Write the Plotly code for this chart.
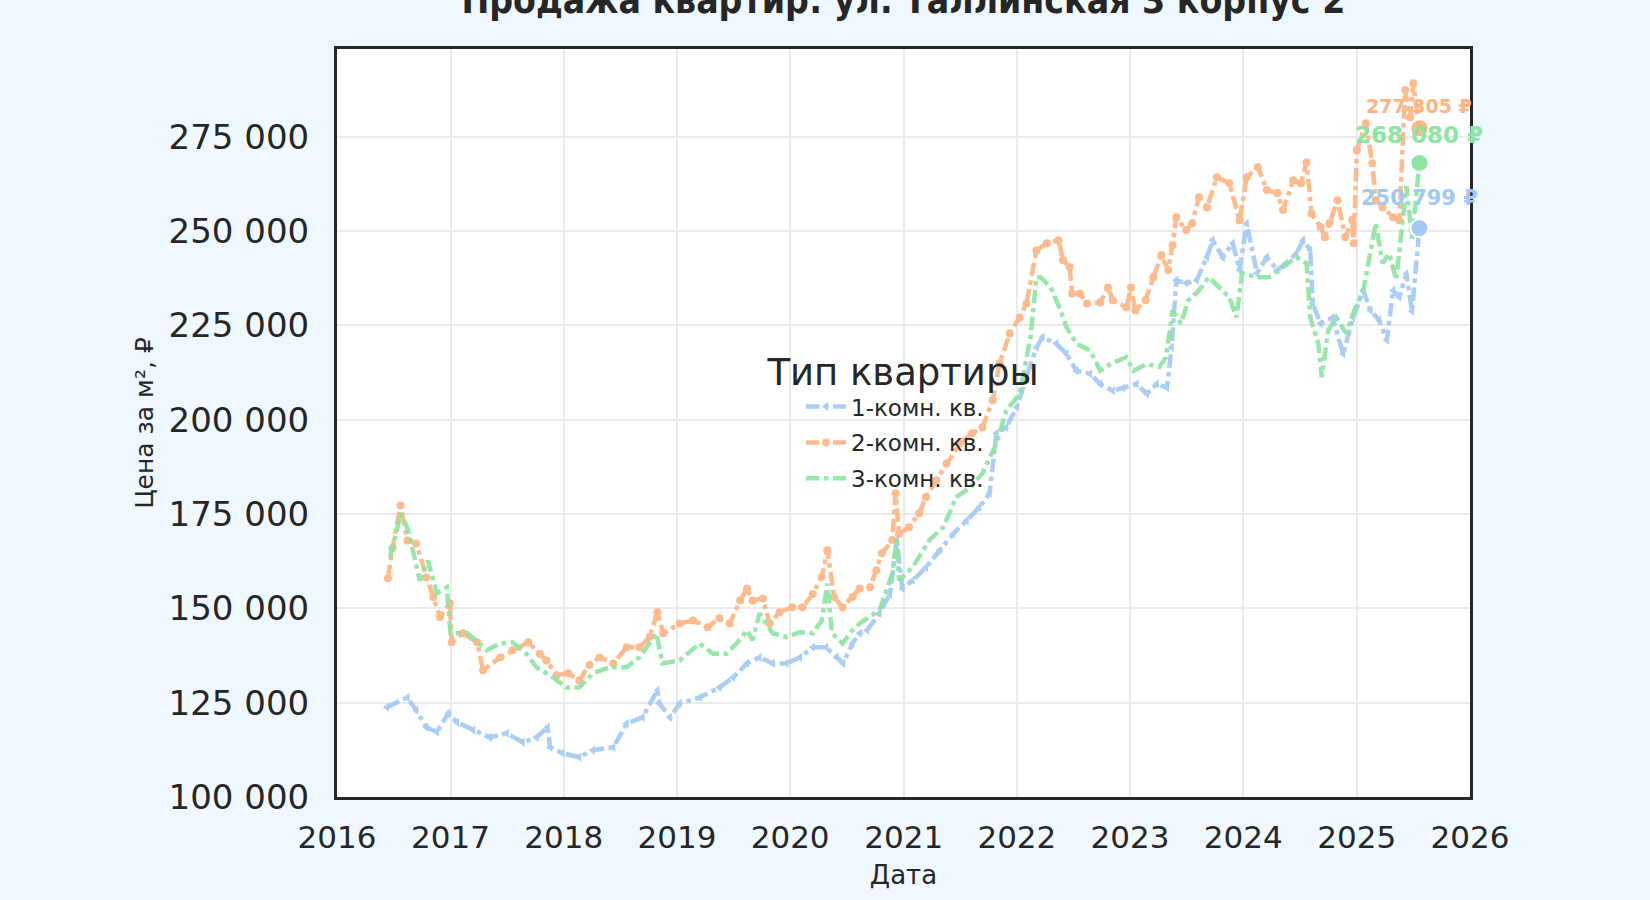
import plotly.graph_objects as go

# 1-комн. кв.
one_dates = [
    "2016-06-10", "2016-08-15", "2016-09-12", "2016-10-15", "2016-11-18", "2016-12-25",
    "2017-01-22", "2017-03-15", "2017-05-08", "2017-07-01", "2017-08-22", "2017-10-05",
    "2017-11-10", "2017-11-18", "2017-12-28", "2018-02-20", "2018-04-05", "2018-06-10",
    "2018-07-23", "2018-09-12", "2018-10-30", "2018-11-05", "2018-12-10", "2019-01-10",
    "2019-03-15", "2019-05-18", "2019-07-01", "2019-08-15", "2019-09-24", "2019-11-06",
    "2019-12-20", "2020-02-02", "2020-03-14", "2020-04-26", "2020-05-30", "2020-06-20",
    "2020-07-20", "2020-08-12", "2020-09-05", "2020-10-15", "2020-11-18", "2020-12-10",
    "2020-12-28", "2021-01-30", "2021-03-14", "2021-04-27", "2021-06-10", "2021-07-23",
    "2021-09-02", "2021-10-05", "2021-10-27", "2021-11-28", "2022-01-01", "2022-02-01",
    "2022-03-05", "2022-03-25", "2022-05-08", "2022-06-10", "2022-07-12", "2022-08-25",
    "2022-09-27", "2022-11-06", "2022-12-10", "2023-01-22", "2023-02-24", "2023-03-28",
    "2023-04-30", "2023-05-15", "2023-05-30", "2023-07-01", "2023-08-04", "2023-09-06",
    "2023-09-24", "2023-10-27", "2023-11-28", "2023-12-20", "2024-01-12", "2024-02-14",
    "2024-03-17", "2024-04-20", "2024-05-18", "2024-06-20", "2024-07-12", "2024-08-04",
    "2024-08-12", "2024-09-06", "2024-10-15", "2024-11-18", "2024-12-20", "2025-01-22",
    "2025-02-14", "2025-03-14", "2025-04-08", "2025-04-28", "2025-05-18", "2025-06-10",
    "2025-06-28", "2025-07-22",
]
one_prices = [
    123800, 126400, 123000, 118500, 117200, 122200,
    119800, 117700, 115800, 116900, 114500, 115800,
    118500, 113200, 111600, 110600, 112400, 113200,
    119500, 121100, 128300, 124800, 121100, 124800,
    126400, 129000, 131700, 135400, 137000, 135400,
    135400, 137000, 139700, 139700, 137000, 135400,
    140700, 143400, 144200, 148700, 153800, 168100,
    155300, 157400, 160900, 165400, 169800, 173300,
    176800, 180500, 196400, 198000, 203400, 211300,
    219200, 221900, 220200, 217500, 213000, 212200,
    209500, 207700, 208500, 209500, 206900, 209500,
    208500, 219200, 237000, 236200, 237000, 243100,
    247600, 243100, 246800, 239700, 252100, 238900,
    243100, 239700, 241500, 244100, 247600, 245000,
    230800, 225500, 227100, 217500, 227100, 234300,
    229000, 226400, 221100, 234300, 232500, 238700,
    228800, 250799,
]

# 2-комн. кв.
two_dates = [
    "2016-06-13", "2016-06-28", "2016-07-24", "2016-08-15", "2016-09-12", "2016-10-15",
    "2016-11-06", "2016-11-28", "2016-12-30", "2017-01-05", "2017-02-10", "2017-03-28",
    "2017-04-16", "2017-06-10", "2017-07-20", "2017-09-09", "2017-10-16", "2017-11-06",
    "2017-12-09", "2018-01-15", "2018-02-20", "2018-03-25", "2018-04-27", "2018-06-10",
    "2018-07-23", "2018-09-02", "2018-10-05", "2018-10-30", "2018-11-18", "2019-01-10",
    "2019-02-22", "2019-04-10", "2019-05-18", "2019-06-20", "2019-07-24", "2019-08-15",
    "2019-09-02", "2019-10-05", "2019-10-27", "2019-11-28", "2020-01-08", "2020-02-10",
    "2020-03-14", "2020-04-12", "2020-04-30", "2020-05-22", "2020-06-18", "2020-07-20",
    "2020-08-12", "2020-09-15", "2020-10-05", "2020-10-23", "2020-11-25", "2020-12-06",
    "2020-12-17", "2021-01-18", "2021-02-20", "2021-03-14", "2021-04-16", "2021-05-19",
    "2021-07-01", "2021-08-10", "2021-09-12", "2021-10-15", "2021-11-06", "2021-12-09",
    "2022-01-10", "2022-02-01", "2022-03-05", "2022-04-08", "2022-05-15", "2022-05-30",
    "2022-06-20", "2022-06-28", "2022-07-23", "2022-08-15", "2022-09-27", "2022-10-22",
    "2022-11-06", "2022-12-20", "2023-01-04", "2023-01-18", "2023-02-20", "2023-03-17",
    "2023-04-12", "2023-05-04", "2023-05-18", "2023-05-30", "2023-07-01", "2023-07-20",
    "2023-08-11", "2023-09-06", "2023-10-08", "2023-11-17", "2023-12-20", "2024-01-12",
    "2024-02-17", "2024-03-17", "2024-04-20", "2024-05-08", "2024-06-10", "2024-07-05",
    "2024-07-23", "2024-08-08", "2024-09-06", "2024-09-20", "2024-10-05", "2024-10-31",
    "2024-11-25", "2024-12-17", "2024-12-22", "2025-01-01", "2025-01-30", "2025-02-20",
    "2025-03-03", "2025-03-25", "2025-04-28", "2025-05-18", "2025-06-06", "2025-06-22",
    "2025-07-02", "2025-07-22",
]
two_prices = [
    158000, 166000, 177300, 168000, 167200, 158200,
    153000, 147700, 151300, 141000, 143400, 141000,
    133600, 137000, 138900, 141000, 138000, 136200,
    132300, 132800, 130900, 135000, 137000, 135400,
    139700, 139700, 142400, 149000, 143400, 146000,
    146800, 145000, 147400, 146000, 152100, 155300,
    152100, 152600, 146000, 149000, 150300, 150300,
    153800, 158300, 165400, 153000, 150300, 153000,
    155300, 155600, 160100, 164600, 168100, 180500,
    169800, 171500, 175200, 179500, 184000, 188400,
    193700, 196400, 198000, 205200, 215000, 222900,
    227100, 230800, 244900, 246800, 247600, 242300,
    240500, 233500, 233500, 230800, 231100, 235100,
    231700, 229800, 235100, 229000, 231700, 237800,
    243600, 239700, 246300, 253700, 250300, 252100,
    259000, 256300, 264300, 262700, 252900, 264300,
    267000, 260900, 260100, 255600, 263500, 262700,
    268300, 254700, 251100, 248400, 252100, 258200,
    248400, 253000, 246800, 271500, 278600, 268000,
    258200, 256300, 253700, 252900, 287400, 280200,
    289200, 277305,
]

# 3-комн. кв.
three_dates = [
    "2016-06-20", "2016-07-25", "2016-08-18", "2016-09-24", "2016-10-20", "2016-11-18",
    "2016-12-20", "2017-01-01", "2017-02-25", "2017-04-28", "2017-06-10", "2017-07-20",
    "2017-09-02", "2017-10-05", "2017-11-28", "2018-01-10", "2018-02-20", "2018-04-05",
    "2018-05-30", "2018-07-23", "2018-09-02", "2018-10-27", "2018-11-15", "2019-01-10",
    "2019-03-15", "2019-04-27", "2019-06-10", "2019-07-12", "2019-08-15", "2019-09-02",
    "2019-09-24", "2019-11-06", "2019-12-20", "2020-02-02", "2020-03-14", "2020-04-12",
    "2020-04-30", "2020-05-15", "2020-06-18", "2020-07-20", "2020-08-12", "2020-10-15",
    "2020-11-25", "2020-12-10", "2020-12-17", "2021-01-30", "2021-03-25", "2021-05-08",
    "2021-06-20", "2021-08-04", "2021-09-12", "2021-10-27", "2021-11-28", "2022-01-10",
    "2022-02-14", "2022-03-05", "2022-03-18", "2022-04-20", "2022-05-22", "2022-06-10",
    "2022-07-12", "2022-08-25", "2022-09-27", "2022-10-30", "2022-12-20", "2023-01-12",
    "2023-02-24", "2023-04-05", "2023-04-27", "2023-05-18", "2023-06-14", "2023-07-08",
    "2023-08-11", "2023-09-12", "2023-10-15", "2023-11-17", "2023-12-10", "2023-12-28",
    "2024-02-14", "2024-03-25", "2024-05-08", "2024-06-20", "2024-07-23", "2024-08-04",
    "2024-08-30", "2024-09-10", "2024-10-01", "2024-10-27", "2024-11-28", "2024-12-20",
    "2025-01-22", "2025-03-03", "2025-03-25", "2025-04-16", "2025-05-08", "2025-06-10",
    "2025-06-28", "2025-07-22",
]
three_prices = [
    163500, 175200, 170700, 157400, 162700, 154000,
    155600, 143400, 143400, 138900, 140700, 141000,
    138000, 134400, 131700, 129000, 129000, 132800,
    134400, 134400, 137000, 143400, 135400, 136200,
    140700, 138000, 138000, 140700, 144200, 141600,
    148700, 143400, 142400, 143700, 143400, 146800,
    156600, 143400, 140700, 144200, 146000, 149500,
    159200, 168100, 157400, 160900, 168100, 171500,
    179500, 182100, 185800, 193700, 202500, 206900,
    221900, 237800, 237800, 235100, 229000, 224600,
    220200, 218400, 213000, 214800, 216600, 213000,
    214800, 214000, 216600, 229000, 225500, 231700,
    234300, 237800, 235100, 232500, 227100, 238900,
    237800, 237800, 240500, 243100, 241500, 227100,
    220200, 211300, 223700, 227100, 222900, 228200,
    234300, 252100, 241500, 244100, 237000, 262000,
    248000, 268080,
]

series_names = ["1-комн. кв.", "2-комн. кв.", "3-комн. кв."]
series_dates = [one_dates, two_dates, three_dates]
series_prices = [one_prices, two_prices, three_prices]

colors = ["#a1c9f4", "#ffb482", "#8de5a1"]
symbols = ["triangle-left", "circle", None]
label_sizes = [21, 19, 23]
label_offsets = [8000, 6000, 7300]

font = "DejaVu Sans"
ink = "#262626"

fig = go.Figure()

for name, dates, prices, color, symbol in zip(
    series_names, series_dates, series_prices, colors, symbols
):
    fig.add_trace(
        go.Scatter(
            x=dates,
            y=prices,
            name=name,
            legendgroup=name,
            mode="lines+markers" if symbol else "lines",
            line={"color": color, "width": 4.5, "dash": "dashdot"},
            marker={"symbol": symbol, "size": 8, "color": color} if symbol else None,
            opacity=0.9,
        )
    )

# last values: big dot + bold label
for dates, prices, color, size, offset in zip(
    series_dates, series_prices, colors, label_sizes, label_offsets
):
    fig.add_trace(
        go.Scatter(
            x=[dates[-1]],
            y=[prices[-1]],
            mode="markers",
            marker={"size": 18, "color": color, "line": {"color": "white", "width": 2}},
            showlegend=False,
            hoverinfo="skip",
        )
    )
    fig.add_annotation(
        x=dates[-1],
        y=prices[-1] + offset,
        text=f"{prices[-1]:,} ₽".replace(",", " "),
        showarrow=False,
        font={"family": font, "size": size, "color": color, "weight": "bold"},
    )

fig.update_layout(
    width=1650,
    height=900,
    paper_bgcolor="#f0f8ff",
    plot_bgcolor="white",
    separators=". ",
    margin={"l": 337, "r": 180, "t": 49, "b": 103},
    font={"family": font, "color": ink},
    title={
        "text": "Продажа квартир: ул. Таллинская 3 корпус 2",
        "x": 0.5475,
        "xanchor": "center",
        "y": 1.0,
        "yanchor": "middle",
        "font": {"family": "DejaVu Sans Condensed, DejaVu Sans", "size": 37, "color": ink, "weight": "bold"},
    },
    legend={
        "title": {"text": "Тип квартиры", "side": "top center", "font": {"size": 37, "color": ink}},
        "font": {"size": 23, "color": ink},
        "traceorder": "grouped",
        "tracegroupgap": 3,
        "itemwidth": 40,
        "indentation": 36,
        "x": 0.5,
        "xanchor": "center",
        "y": 0.615,
        "yanchor": "top",
        "bgcolor": "rgba(0,0,0,0)",
    },
)

fig.update_xaxes(
    type="date",
    range=["2016-01-01", "2026-01-01"],
    dtick="M12",
    tickformat="%Y",
    tickfont={"size": 31, "color": ink},
    ticklabelstandoff=11,
    title={"text": "Дата", "font": {"size": 26, "color": ink}, "standoff": 12},
    showgrid=True,
    gridcolor="#ebebeb",
    gridwidth=2,
    showline=True,
    linecolor=ink,
    linewidth=3,
    mirror=True,
    zeroline=False,
)

fig.update_yaxes(
    range=[100000, 298300],
    tick0=100000,
    dtick=25000,
    tickformat=",d",
    tickfont={"size": 34, "color": ink},
    ticklabelstandoff=18,
    title={"text": "Цена за м², ₽", "font": {"size": 25, "color": ink}, "standoff": 8},
    showgrid=True,
    gridcolor="#ebebeb",
    gridwidth=2,
    showline=True,
    linecolor=ink,
    linewidth=3,
    mirror=True,
    zeroline=False,
)

fig.write_html(
    "out.html",
    config={"displayModeBar": False},
    post_script="document.body.style.margin = '0';",
)
